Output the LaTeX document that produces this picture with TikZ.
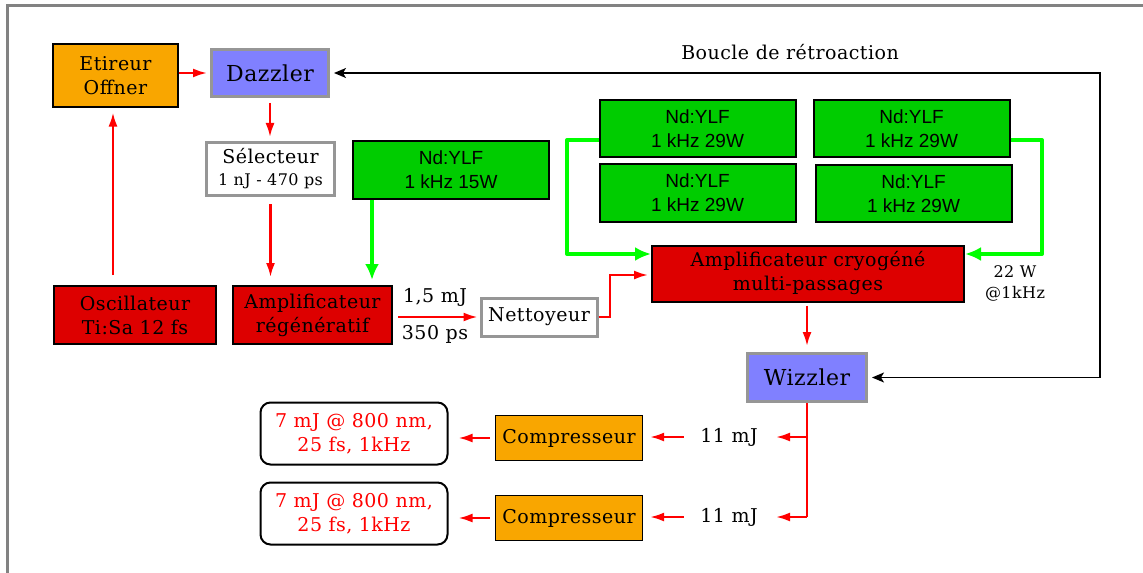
\documentclass[tikz,border=0pt]{standalone}
\usepackage{fontspec}
\setmainfont{DejaVu Serif}[LetterSpace=2.5]
\setsansfont{Liberation Sans}
\usetikzlibrary{arrows.meta,calc}
\definecolor{boxred}{RGB}{221,0,0}
\definecolor{boxblue}{RGB}{128,128,255}
\definecolor{boxorange}{RGB}{249,166,0}
\definecolor{boxgreen}{RGB}{0,204,0}
\definecolor{lightgreen}{RGB}{0,255,0}
\definecolor{bordergray}{RGB}{150,150,150}
\definecolor{framegray}{RGB}{130,130,130}
\tikzset{
  box/.style={rectangle, draw=black, inner sep=2pt, align=center, line width=1pt},
  redbox/.style={box, fill=boxred},
  graybox/.style={box, draw=bordergray, line width=1.5pt, fill=white},
  bluebox/.style={graybox, fill=boxblue, font=\fontsize{11}{13}\selectfont},
  orangebox/.style={box, fill=boxorange, line width=0.6pt},
  ndbox/.style={box, fill=boxgreen, font=\sffamily\fontsize{9.5}{12}\selectfont},
  outbox/.style={box, rounded corners=5pt, text=red},
  lbl/.style={inner sep=1pt, align=center},
  redarrow/.style={draw=red, line width=1.1pt, -{Latex[length=7pt,width=4.5pt]}},
  redline/.style={draw=red, line width=1.1pt},
  greenarrow/.style={draw=lightgreen, line width=2pt, line join=round, -{Latex[length=8pt,width=7pt]}},
  greenline/.style={draw=lightgreen, line width=2pt, line join=round},
  loopline/.style={draw=black, line width=0.7pt, {Stealth[length=6pt,width=5pt,inset=1.5pt]}-{Stealth[length=6pt,width=5pt,inset=1.5pt]}},
}
\begin{document}
\begin{tikzpicture}[x=0.5pt,y=-0.5pt,font=\fontsize{9.5}{12}\selectfont]
\useasboundingbox (0,0) rectangle (1143,572);
\begin{scope}
\clip (0,0) rectangle (1143,572);
\draw[framegray, line width=1.5pt] (7,6) rectangle (1200,640);
\end{scope}

% boxes
\node[orangebox, minimum width=62.5pt, minimum height=31.5pt] (etireur) at (115.5,75.5) {Etireur\\Offner};
\node[bluebox, minimum width=58.5pt, minimum height=23.5pt] (dazzler) at (270,73) {Dazzler};
\node[graybox, minimum width=64pt, minimum height=26.5pt] (selecteur) at (270.5,169) {Sélecteur\\[-1pt]{\fontsize{8}{10}\selectfont 1 nJ - 470 ps}};
\node[ndbox, minimum width=98pt, minimum height=29pt] (nd15) at (451,170) {Nd:YLF\\1 kHz 15W};
\node[redbox, minimum width=81pt, minimum height=29pt] (osc) at (135,315) {Oscillateur\\Ti:Sa 12 fs};
\node[redbox, minimum width=79.5pt, minimum height=29pt] (regen) at (312.5,315) {Amplificateur\\régénératif};
\node[graybox, minimum width=58pt, minimum height=19pt] (nett) at (539,317) {Nettoyeur};
\node[ndbox, minimum width=98pt, minimum height=28.5pt] (nda) at (697.5,129) {Nd:YLF\\1 kHz 29W};
\node[ndbox, minimum width=98pt, minimum height=28.5pt] (ndb) at (911.5,129) {Nd:YLF\\1 kHz 29W};
\node[ndbox, minimum width=98pt, minimum height=28.5pt] (ndc) at (697.5,193) {Nd:YLF\\1 kHz 29W};
\node[ndbox, minimum width=98pt, minimum height=28.5pt] (ndd) at (913.5,193.5) {Nd:YLF\\1 kHz 29W};
\node[redbox, minimum width=156pt, minimum height=28pt] (cryo) at (808,273.5) {Amplificateur cryogéné\\multi-passages};
\node[bluebox, minimum width=59.5pt, minimum height=24pt] (wizz) at (807,377.5) {Wizzler};
\node[orangebox, minimum width=73.5pt, minimum height=22.5pt] (comp1) at (569,438) {Compresseur};
\node[orangebox, minimum width=73.5pt, minimum height=22.5pt] (comp2) at (569,518) {Compresseur};
\node[outbox, minimum width=93.5pt, minimum height=31pt] (out1) at (354,433.5) {7 mJ @ 800 nm,\\25 fs, 1kHz};
\node[outbox, minimum width=93.5pt, minimum height=31pt] (out2) at (354,513.5) {7 mJ @ 800 nm,\\25 fs, 1kHz};

% labels
\node[lbl] (boucle) at (790,52) {Boucle de rétroaction};
\node[lbl] (e15) at (435,297) {1,5 mJ};
\node[lbl] (t350) at (435,334) {350 ps};
\node[lbl, font=\fontsize{8}{10.5}\selectfont] (p22) at (1015,283) {22 W\\@1kHz};
\node[lbl] (mj1) at (729,437) {11 mJ};
\node[lbl] (mj2) at (729,517) {11 mJ};

% coordinates
\coordinate (gl) at (567,254);
\coordinate (gr) at (1042,254);
\coordinate (nbend) at (610,275);
\coordinate (loopc) at (1100,225);
\coordinate (b1) at (807,437);
\coordinate (b2) at (807,517);

% red chain
\draw[redarrow, shorten <=5pt, shorten >=2.5pt] (osc.north -| 113,0) -- (etireur.south -| 113,0);
\draw[redarrow, shorten >=1.5pt] (etireur.east |- dazzler.west) -- (dazzler.west);
\draw[redarrow, shorten <=2.5pt, shorten >=2pt] (dazzler.south) -- (selecteur.north -| dazzler.south);
\draw[redarrow, shorten <=3.5pt, shorten >=4pt] (selecteur.south) -- (selecteur.south |- regen.north);
\draw[greenarrow, shorten >=2.5pt] (nd15.south -| 372,0) -- (regen.north -| 372,0);
\draw[redarrow, shorten <=2.5pt, shorten >=1pt] (regen.east |- nett.west) -- (nett.west);
\draw[redarrow, shorten >=1.5pt] (nett.east) -| (nbend) -- (nbend -| cryo.west);
\draw[redarrow, shorten <=1.5pt, shorten >=3pt] (cryo.south -| wizz.north) -- (wizz.north);

% pump lines
\draw[greenarrow] ($(nda.west)+(0,11)$) -| (gl) -- (gl -| cryo.west);
\draw[greenline] ($(ndc.west)+(0,3)$) -- ($(ndc.west)+(0,3)$ -| gl);
\draw[greenarrow] ($(ndb.east)+(0,11)$) -| (gr) -- (gr -| cryo.east);
\draw[greenline] ($(ndd.east)+(0,1)$) -- ($(ndd.east)+(0,1)$ -| gr);

% feedback loop
\draw[loopline, shorten <=2pt, shorten >=2pt] (dazzler.east) -| (loopc) |- (wizz.east);

% outputs
\draw[redline] (wizz.south) -- (b2);
\draw[redarrow, shorten >=8pt] (b1) -- (b1 -| mj1.east);
\draw[redarrow, shorten >=8pt] (b2) -- (b2 -| mj2.east);
\draw[redarrow, shorten <=7pt, shorten >=3.5pt] (b1 -| mj1.west) -- (b1 -| comp1.east);
\draw[redarrow, shorten <=7pt, shorten >=3.5pt] (b2 -| mj2.west) -- (b2 -| comp2.east);
\draw[redarrow, shorten <=2.5pt, shorten >=5pt] (comp1.west) -- (comp1.west -| out1.east);
\draw[redarrow, shorten <=2.5pt, shorten >=5pt] (comp2.west) -- (comp2.west -| out2.east);
\end{tikzpicture}
\end{document}
